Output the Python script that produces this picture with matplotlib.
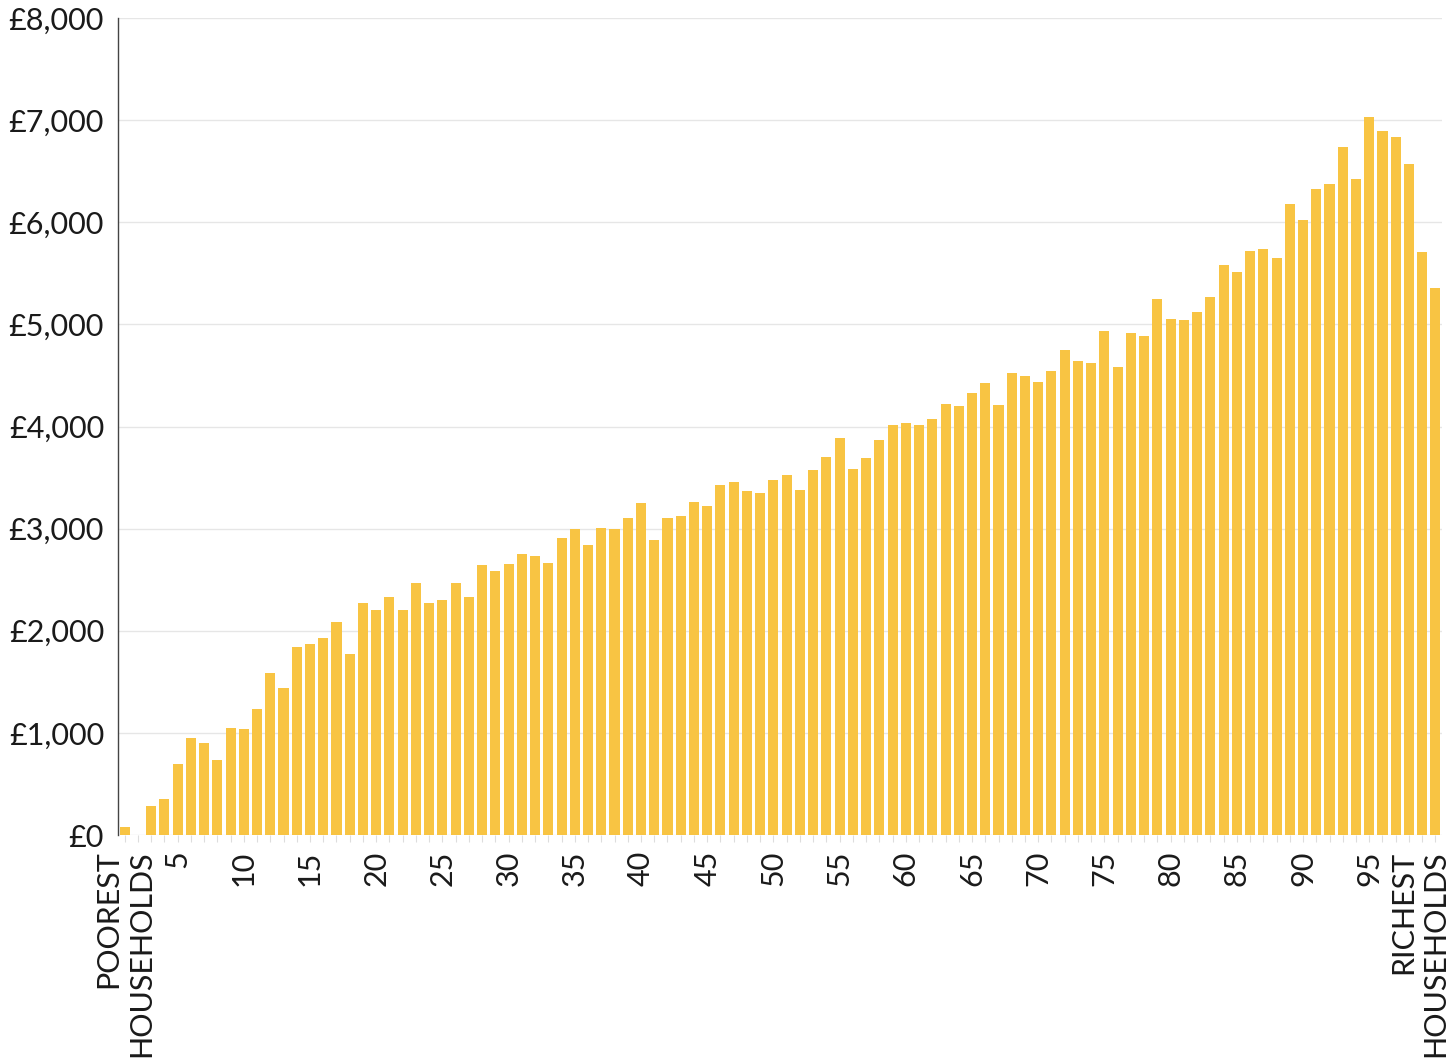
import matplotlib
matplotlib.use("Agg")
import matplotlib.pyplot as plt
import matplotlib.transforms as mtransforms
import numpy as np

# percentile of household income, 1 (poorest) .. 100 (richest)
percentiles = list(range(1, 101))

# value per household (GBP)
values = [
    80, 0, 280, 350, 700, 950, 900, 730, 1050, 1040,
    1230, 1590, 1440, 1840, 1870, 1930, 2090, 1770, 2270, 2200,
    2330, 2200, 2470, 2270, 2300, 2470, 2330, 2640, 2590, 2650,
    2750, 2730, 2660, 2910, 3000, 2840, 3010, 3000, 3100, 3250,
    2890, 3100, 3120, 3260, 3220, 3430, 3460, 3370, 3350, 3480,
    3530, 3380, 3570, 3700, 3890, 3580, 3690, 3870, 4010, 4030,
    4010, 4070, 4220, 4200, 4330, 4430, 4210, 4520, 4490, 4440,
    4540, 4750, 4640, 4620, 4940, 4580, 4920, 4890, 5250, 5050,
    5040, 5120, 5270, 5580, 5510, 5720, 5740, 5650, 6180, 6020,
    6330, 6370, 6740, 6420, 7030, 6890, 6830, 6570, 5710, 5360,
]

y_ticks = [0, 1000, 2000, 3000, 4000, 5000, 6000, 7000, 8000]
x_label_map = {1: "POOREST\nHOUSEHOLDS", 100: "RICHEST\nHOUSEHOLDS"}
for p in range(5, 100, 5):
    x_label_map[p] = str(p)

plt.rcParams['font.family'] = ['Lato', 'DejaVu Sans']

fig = plt.figure(figsize=(14.48, 10.64), dpi=100)
ax = fig.add_axes((0.0815, 0.2152, 0.9144, 0.7679))

ax.bar(percentiles, values, width=0.76, color="#F8C443", zorder=2)

ax.set_xlim(0.5, 100.5)
ax.set_ylim(0, 8000)

ax.set_yticks(y_ticks)
ax.set_yticklabels(["£{:,}".format(v) for v in y_ticks])
ax.yaxis.grid(True, color="#e6e6e6", linewidth=1.0, zorder=0)
ax.set_axisbelow(True)
ax.tick_params(axis='y', length=0, pad=10, labelsize=22, labelcolor="#1a1a1a")

ax.set_xticks(percentiles)
ax.set_xticklabels([x_label_map.get(p, "") for p in percentiles],
                   rotation=90, va='top', ha='center')
ax.tick_params(axis='x', length=5, width=0.8, color="#dddddd", pad=6,
               labelsize=22, labelcolor="#1a1a1a")
xlabels = ax.get_xticklabels()
for lbl in xlabels:
    lbl.set_multialignment('right')
# keep the last two-line label inside the figure, as in the original
last = xlabels[-1]
last.set_transform(last.get_transform() +
                   mtransforms.ScaledTranslation(-16 / 100, 0, fig.dpi_scale_trans))

for side in ('top', 'right', 'bottom'):
    ax.spines[side].set_visible(False)
ax.spines['left'].set_color("#444444")
ax.spines['left'].set_linewidth(1.0)

plt.savefig("out.png", dpi=100)
